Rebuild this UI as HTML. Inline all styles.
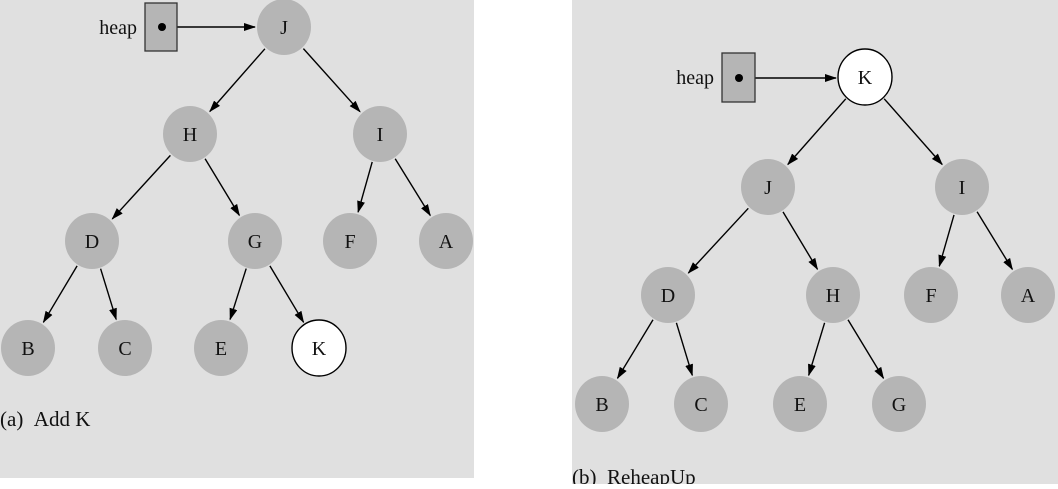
<!DOCTYPE html>
<html><head><meta charset="utf-8"><style>
body{margin:0;background:#fff;width:1058px;height:484px;overflow:hidden}
text{font-family:"Liberation Serif",serif;font-size:20px;fill:#111}
.n{fill:#b5b5b5}
.w{fill:#fff;stroke:#000;stroke-width:1.4}
</style></head><body>
<svg width="1058" height="484" viewBox="0 0 1058 484" xmlns="http://www.w3.org/2000/svg">
<defs><marker id="ah" markerWidth="12" markerHeight="8" refX="11" refY="4" orient="auto" markerUnits="userSpaceOnUse"><path d="M0,0 L12,4 L0,8 Z" fill="#000"/></marker></defs>
<rect x="0" y="0" width="474" height="478" fill="#e0e0e0"/>
<rect x="572" y="0" width="486" height="484" fill="#e0e0e0"/>
<g stroke="#000" stroke-width="1.4" marker-end="url(#ah)">
<line x1="264.9" y1="48.8" x2="209.8" y2="111.5"/>
<line x1="303.4" y1="48.6" x2="360" y2="111.7"/>
<line x1="170.4" y1="155.4" x2="112.3" y2="218.9"/>
<line x1="205.1" y1="158.8" x2="239.4" y2="215.4"/>
<line x1="372.2" y1="161.9" x2="358.1" y2="212.1"/>
<line x1="395.2" y1="158.7" x2="430.3" y2="215.5"/>
<line x1="77.1" y1="265.9" x2="43.4" y2="322.3"/>
<line x1="100.6" y1="268.7" x2="116.2" y2="319.4"/>
<line x1="246.2" y1="268.6" x2="230.1" y2="319.4"/>
<line x1="269.9" y1="265.9" x2="303.6" y2="322.3"/>
<line x1="845.8" y1="98.8" x2="787.8" y2="164.5"/>
<line x1="884.2" y1="98.8" x2="942.2" y2="164.5"/>
<line x1="748.3" y1="208.3" x2="688.4" y2="273"/>
<line x1="783" y1="211.9" x2="817.5" y2="269.3"/>
<line x1="954" y1="214.9" x2="939.3" y2="266.2"/>
<line x1="977.1" y1="211.7" x2="1012.4" y2="269.4"/>
<line x1="653" y1="319.8" x2="617.5" y2="378.3"/>
<line x1="676.4" y1="322.8" x2="692.3" y2="375.3"/>
<line x1="824.6" y1="322.8" x2="808.7" y2="375.3"/>
<line x1="848" y1="319.8" x2="883.5" y2="378.3"/>
<line x1="162" y1="27" x2="255" y2="27"/>
<line x1="739" y1="78" x2="836" y2="78"/>
</g>
<ellipse class="n" cx="284" cy="27" rx="27" ry="28"/>
<ellipse class="n" cx="190" cy="134" rx="27" ry="28"/>
<ellipse class="n" cx="380" cy="134" rx="27" ry="28"/>
<ellipse class="n" cx="92" cy="241" rx="27" ry="28"/>
<ellipse class="n" cx="255" cy="241" rx="27" ry="28"/>
<ellipse class="n" cx="350" cy="241" rx="27" ry="28"/>
<ellipse class="n" cx="446" cy="241" rx="27" ry="28"/>
<ellipse class="n" cx="28" cy="348" rx="27" ry="28"/>
<ellipse class="n" cx="125" cy="348" rx="27" ry="28"/>
<ellipse class="n" cx="221" cy="348" rx="27" ry="28"/>
<ellipse class="w" cx="319" cy="348" rx="27" ry="28"/>
<ellipse class="w" cx="865" cy="77" rx="27" ry="28"/>
<ellipse class="n" cx="768" cy="187" rx="27" ry="28"/>
<ellipse class="n" cx="962" cy="187" rx="27" ry="28"/>
<ellipse class="n" cx="668" cy="295" rx="27" ry="28"/>
<ellipse class="n" cx="833" cy="295" rx="27" ry="28"/>
<ellipse class="n" cx="931" cy="295" rx="27" ry="28"/>
<ellipse class="n" cx="1028" cy="295" rx="27" ry="28"/>
<ellipse class="n" cx="602" cy="404" rx="27" ry="28"/>
<ellipse class="n" cx="701" cy="404" rx="27" ry="28"/>
<ellipse class="n" cx="800" cy="404" rx="27" ry="28"/>
<ellipse class="n" cx="899" cy="404" rx="27" ry="28"/>
<g text-anchor="middle">
<text x="284" y="34">J</text><text x="190" y="141">H</text><text x="380" y="141">I</text>
<text x="92" y="248">D</text><text x="255" y="248">G</text><text x="350" y="248">F</text><text x="446" y="248">A</text>
<text x="28" y="355">B</text><text x="125" y="355">C</text><text x="221" y="355">E</text><text x="319" y="355">K</text>
<text x="865" y="84">K</text><text x="768" y="194">J</text><text x="962" y="194">I</text>
<text x="668" y="302">D</text><text x="833" y="302">H</text><text x="931" y="302">F</text><text x="1028" y="302">A</text>
<text x="602" y="411">B</text><text x="701" y="411">C</text><text x="800" y="411">E</text><text x="899" y="411">G</text>
</g>
<rect x="145" y="3" width="32" height="48" fill="#b5b5b5" stroke="#333" stroke-width="1.3"/>
<circle cx="162" cy="27" r="4" fill="#000"/>
<text x="137" y="34" text-anchor="end">heap</text>
<rect x="722" y="53" width="33" height="49" fill="#b5b5b5" stroke="#333" stroke-width="1.3"/>
<circle cx="739" cy="78" r="4" fill="#000"/>
<text x="714" y="84" text-anchor="end">heap</text>
<text x="0" y="426" style="font-size:21px">(a)&#160;&#160;Add K</text>
<text x="572" y="484" style="font-size:21px">(b)&#160;&#160;ReheapUp</text>
</svg>
</body></html>
